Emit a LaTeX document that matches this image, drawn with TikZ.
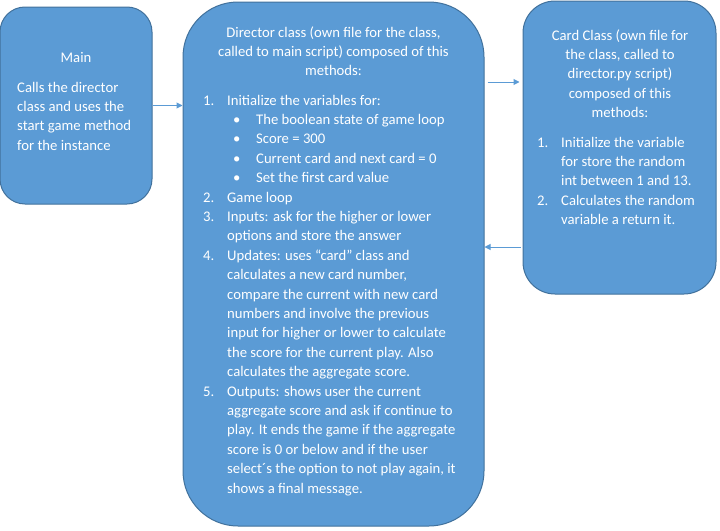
\documentclass[tikz,border=0pt]{standalone}
\usepackage{fontspec}
\setmainfont{Carlito}
\usetikzlibrary{arrows.meta}
\definecolor{boxfill}{HTML}{5B9BD5}
\definecolor{boxline}{HTML}{41719C}
\definecolor{arrowc}{HTML}{5B9BD5}
\newcommand{\fs}{\fontsize{14.7}{19.4}\selectfont}
\newcommand{\nm}[1]{\makebox[24pt][l]{#1}}
\newcommand{\ind}{\makebox[24pt]{}}
\newcommand{\bul}{\makebox[30pt]{}\makebox[23pt][l]{•}}
\tikzset{
  box/.style={draw=boxline, fill=boxfill, line width=1pt, inner sep=0pt},
  txt/.style={text=white, inner sep=0pt, font=\fs, align=left, anchor=north west},
  ttl/.style={text=white, inner sep=0pt, font=\fs, align=center, anchor=north},
  arr/.style={draw=arrowc, line width=1pt, -{Triangle[length=6pt,width=6pt]}}
}
\begin{document}
\begin{tikzpicture}[x=1pt,y=-1pt]
\useasboundingbox (0,0) rectangle (720,530);
% boxes
\node[box, rounded corners=25pt, minimum width=152pt, minimum height=197pt] (main) at (76,105.5) {};
\node[box, rounded corners=55pt, minimum width=301pt, minimum height=524pt] (director) at (333.5,264) {};
\node[box, rounded corners=32pt, minimum width=193pt, minimum height=293pt] (card) at (619.5,147.5) {};
% main text
\node[ttl] (maint) at (76,48.4) {\strut Main};
\node[txt] (mainp) at (17,78.4) {\strut Calls the director\\class and uses the\\start game method\\for the instance};
% director text
\node[ttl] (dirt) at (333.5,23.4) {\strut Director class (own file for the class,\\called to main script) composed of this\\methods:};
\node[txt] (dirl) at (203,91.4) {\strut\nm{1.}Initialize the variables for:\\
\bul The boolean state of game loop\\
\bul Score = 300\\
\bul Current card and next card = 0\\
\bul Set the first card value\\
\nm{2.}Game loop\\
\nm{3.}Inputs: ask for the higher or lower\\
\ind options and store the answer\\
\nm{4.}Updates: uses “card” class and\\
\ind calculates a new card number,\\
\ind compare the current with new card\\
\ind numbers and involve the previous\\
\ind input for higher or lower to calculate\\
\ind the score for the current play. Also\\
\ind calculates the aggregate score.\\
\nm{5.}Outputs: shows user the current\\
\ind aggregate score and ask if continue to\\
\ind play. It ends the game if the aggregate\\
\ind score is 0 or below and if the user\\
\ind select´s the option to not play again, it\\
\ind shows a final message.};
% card text
\node[ttl] (cardt) at (620,26.4) {\strut Card Class (own file for\\the class, called to\\director.py script)\\composed of this\\methods:};
\node[txt] (cardl) at (537,133.4) {\strut\nm{1.}Initialize the variable\\
\ind for store the random\\
\ind int between 1 and 13.\\
\nm{2.}Calculates the random\\
\ind variable a return it.};
% arrows
\draw[arr] (main.east) -- (main.east -| director.west);
\draw[arr] ([xshift=3pt]director.east |- 0,82) -- ([xshift=-3pt]card.west |- 0,82);
\draw[arr] ([xshift=-2pt]card.west |- 0,247) -- (director.east |- 0,247);
\end{tikzpicture}
\end{document}
